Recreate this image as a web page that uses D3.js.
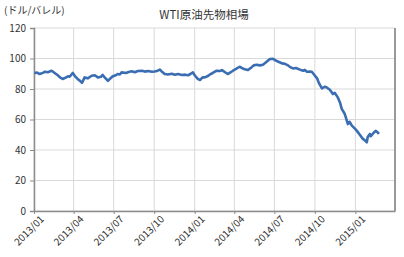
<!DOCTYPE html>
<html>
<head>
<meta charset="utf-8">
<script src="https://cdn.jsdelivr.net/npm/d3@7"></script>
<style>
  body { margin: 0; background: #fff; }
  svg text { font-family: "Noto Sans CJK JP", "Noto Sans", sans-serif; fill: #333; }
</style>
</head>
<body>
<svg id="chart" width="404" height="257"></svg>
<script>
// WTI price readings (USD/bbl)
var dates = [
  "2013-01-02","2013-01-08","2013-01-14","2013-01-21","2013-01-26","2013-02-01","2013-02-10","2013-02-17",
  "2013-02-24","2013-03-01","2013-03-07","2013-03-12","2013-03-19","2013-03-23","2013-03-30","2013-04-04",
  "2013-04-10","2013-04-15","2013-04-20","2013-04-26","2013-05-03","2013-05-12","2013-05-19","2013-05-26",
  "2013-06-02","2013-06-06","2013-06-11","2013-06-18","2013-06-22","2013-06-29","2013-07-06","2013-07-10",
  "2013-07-15","2013-07-19","2013-07-29","2013-08-04","2013-08-11","2013-08-18","2013-08-25","2013-09-03",
  "2013-09-10","2013-09-17","2013-09-26","2013-10-02","2013-10-09","2013-10-14","2013-10-18","2013-10-25",
  "2013-11-01","2013-11-10","2013-11-17","2013-11-24","2013-12-03","2013-12-10","2013-12-17","2013-12-23",
  "2013-12-28","2014-01-01","2014-01-08","2014-01-13","2014-01-19","2014-01-24","2014-01-31","2014-02-04",
  "2014-02-11","2014-02-20","2014-02-27","2014-03-04","2014-03-11","2014-03-17","2014-03-24","2014-03-29",
  "2014-04-04","2014-04-13","2014-04-20","2014-04-25","2014-05-02","2014-05-09","2014-05-15","2014-05-22",
  "2014-05-29","2014-06-05","2014-06-12","2014-06-16","2014-06-21","2014-06-28","2014-07-02","2014-07-09",
  "2014-07-14","2014-07-18","2014-07-25","2014-08-01","2014-08-05","2014-08-12","2014-08-19","2014-08-28",
  "2014-09-04","2014-09-08","2014-09-13","2014-09-20","2014-09-24","2014-09-29","2014-10-06","2014-10-10",
  "2014-10-17","2014-10-24","2014-10-28","2014-11-04","2014-11-11","2014-11-15","2014-11-22","2014-11-27",
  "2014-12-01","2014-12-08","2014-12-15","2014-12-19","2014-12-24","2014-12-31","2015-01-04","2015-01-11",
  "2015-01-18","2015-01-22","2015-01-27","2015-01-29","2015-02-03","2015-02-05","2015-02-12","2015-02-16",
  "2015-02-21","2015-02-23"
];
var prices = [
  90.4, 90.8, 89.8, 90.6, 91.3, 91.0, 92.0, 90.5,
  89.0, 87.6, 86.6, 87.2, 88.3, 88.0, 90.5, 88.5,
  86.6, 85.5, 84.0, 87.6, 87.0, 88.7, 89.0, 87.6,
  88.0, 89.2, 87.5, 85.4, 86.5, 88.3, 89.0, 89.8,
  89.5, 90.9, 90.5, 91.2, 91.6, 91.0, 91.8, 92.0,
  91.4, 91.8, 91.3, 91.5, 92.0, 92.7, 91.5, 89.8,
  89.5, 90.0, 89.4, 89.8, 89.2, 89.4, 89.0, 90.0,
  90.9, 89.0, 86.6, 85.9, 87.6, 87.6, 88.5, 89.4,
  90.5, 92.0, 91.8, 92.4, 91.0, 89.8, 91.0, 92.0,
  93.0, 94.6, 93.5, 93.0, 92.4, 94.0, 95.5, 95.9,
  95.5, 95.9, 97.5, 98.5, 99.7, 99.8, 99.0, 98.0,
  97.4, 96.8, 96.5, 95.5, 94.5, 93.5, 93.8, 92.7,
  92.0, 92.5, 91.3, 91.5, 91.3, 89.5, 87.0, 84.0,
  80.4, 81.5, 81.0, 79.5, 76.7, 77.5, 74.5, 71.2,
  67.0, 63.6, 57.0, 58.5, 56.0, 54.0, 52.7, 50.0,
  47.3, 46.5, 45.0, 48.5, 50.5, 49.0, 51.5, 52.5,
  51.5, 50.5
];
var yTicks = [0, 20, 40, 60, 80, 100, 120];
var xTicks = ["2013-01-01","2013-04-01","2013-07-01","2013-10-01","2014-01-01",
              "2014-04-01","2014-07-01","2014-10-01","2015-01-01","2015-04-01"];
var title = "WTI原油先物相場";
var unitLabel = "(ドル/バレル)";

var parse = d3.timeParse("%Y-%m-%d");
var data = dates.map(function (d, i) { return { date: parse(d), value: prices[i] }; });
var tickDates = xTicks.map(parse);

var svg = d3.select("#chart"),
    margin = { top: 28, right: 9, bottom: 46, left: 34 },
    width = +svg.attr("width") - margin.left - margin.right,
    height = +svg.attr("height") - margin.top - margin.bottom;

var x = d3.scaleTime()
    .domain([tickDates[0], tickDates[tickDates.length - 1]])
    .range([0, width]);
var y = d3.scaleLinear().domain([0, 120]).range([height, 0]);

var g = svg.append("g").attr("transform", "translate(" + margin.left + "," + margin.top + ")");

// grid
g.append("g").selectAll("line").data(yTicks).enter().append("line")
    .attr("x1", 0).attr("x2", width)
    .attr("y1", function (d) { return y(d); }).attr("y2", function (d) { return y(d); })
    .attr("stroke", "#d9d9d9").attr("stroke-width", 1);
g.append("g").selectAll("line").data(tickDates).enter().append("line")
    .attr("x1", function (d) { return x(d); }).attr("x2", function (d) { return x(d); })
    .attr("y1", 0).attr("y2", height)
    .attr("stroke", "#d9d9d9").attr("stroke-width", 1);

// frame: right edge darker
g.append("line").attr("x1", width).attr("x2", width).attr("y1", 0).attr("y2", height)
    .attr("stroke", "#7f7f7f").attr("stroke-width", 1.5);

// y axis
var yAxis = g.append("g")
    .call(d3.axisLeft(y).tickValues(yTicks).tickSize(4).tickPadding(4));
yAxis.select(".domain").attr("stroke", "#8c8c8c").attr("stroke-width", 1.5);
yAxis.selectAll(".tick line").attr("stroke", "#8c8c8c");
yAxis.selectAll("text").attr("font-size", "10px").attr("fill", "#333");

// x axis
var xAxis = g.append("g")
    .attr("transform", "translate(0," + height + ")")
    .call(d3.axisBottom(x).tickValues(tickDates.slice(0, -1)).tickSize(3).tickSizeOuter(0)
        .tickFormat(d3.timeFormat("%Y/%m")));
xAxis.select(".domain").attr("stroke", "#8c8c8c").attr("stroke-width", 1.5);
xAxis.selectAll(".tick line").attr("stroke", "#8c8c8c");
xAxis.selectAll("text")
    .attr("font-size", "10px").attr("fill", "#333")
    .attr("text-anchor", "end")
    .attr("dx", "0.1em").attr("dy", "0.75em")
    .attr("transform", "rotate(-45)");

// line
var line = d3.line()
    .x(function (d) { return x(d.date); })
    .y(function (d) { return y(d.value); });

g.append("path")
    .datum(data)
    .attr("fill", "none")
    .attr("stroke", "#3b6db3")
    .attr("stroke-width", 2.6)
    .attr("stroke-linejoin", "round")
    .attr("d", line);

// titles
svg.append("text")
    .attr("x", 204).attr("y", 19)
    .attr("text-anchor", "middle")
    .attr("font-size", "11.5px")
    .text(title);
svg.append("text")
    .attr("x", 4).attr("y", 14)
    .attr("font-size", "10px")
    .text(unitLabel);
</script>
</body>
</html>
